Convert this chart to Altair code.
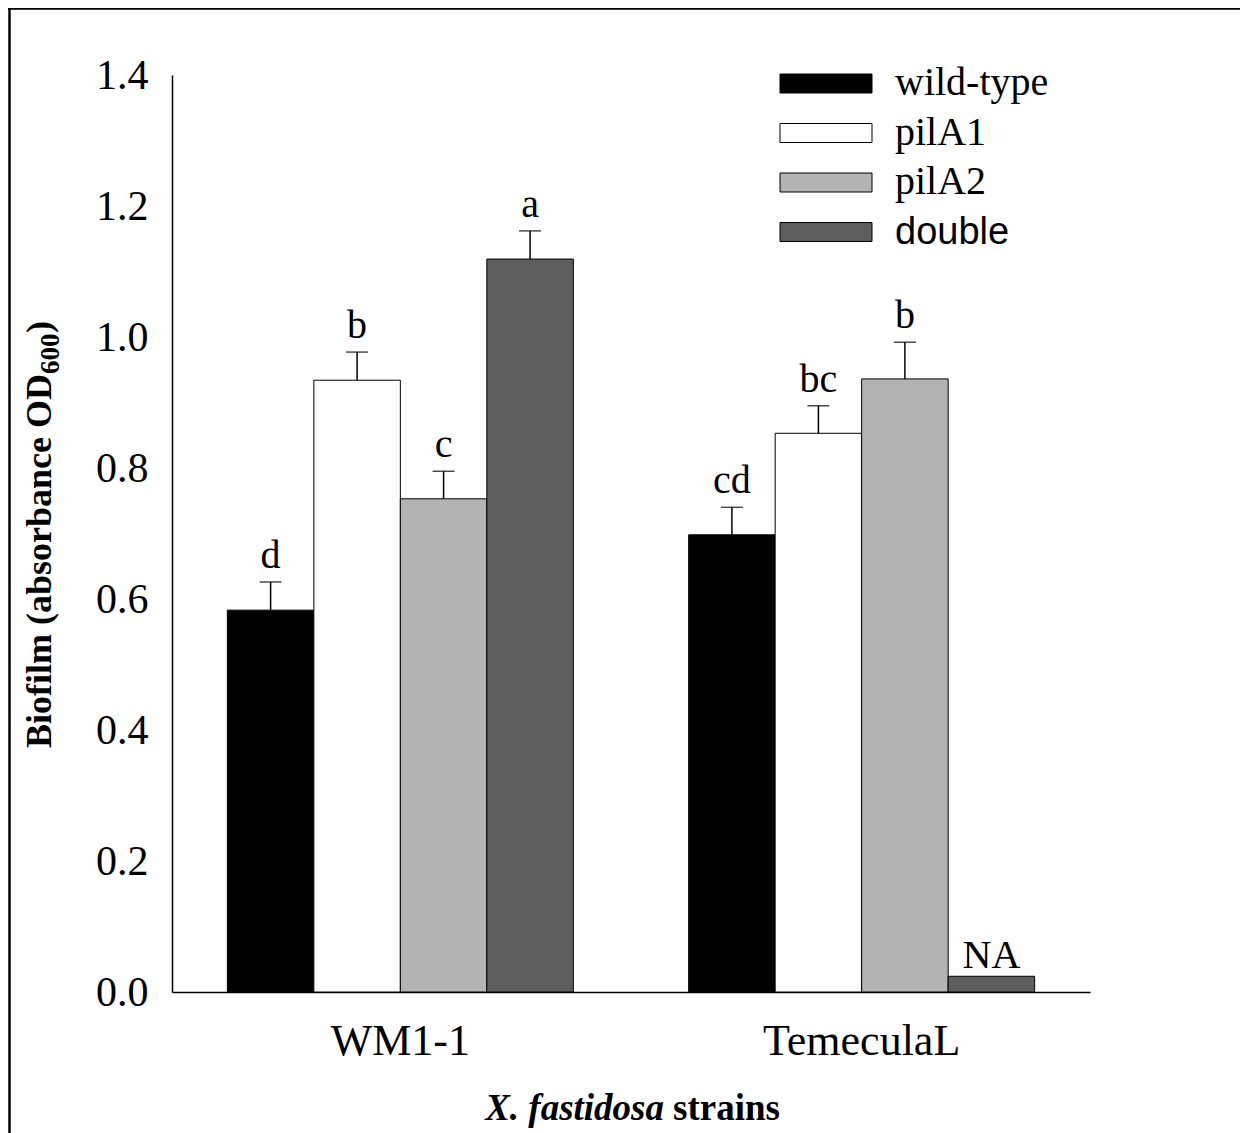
import altair as alt
import pandas as pd

strains = ["WM1-1", "TemeculaL"]
series = ["wild-type", "pilA1", "pilA2", "double"]
colors = ["#000000", "#ffffff", "#b3b3b3", "#5e5e5e"]

wm_values = [0.583, 0.934, 0.753, 1.119]
wm_errors = [0.043, 0.043, 0.042, 0.043]
wm_letters = ["d", "b", "c", "a"]

tem_values = [0.698, 0.853, 0.936, 0.024]
tem_errors = [0.042, 0.042, 0.056, None]
tem_letters = ["cd", "bc", "b", "NA"]

y_ticks = [0.0, 0.2, 0.4, 0.6, 0.8, 1.0, 1.2, 1.4]

SERIF = "Liberation Serif"
SANS = "Liberation Sans"

rows = []
for strain, vals, errs, lets in [
    ("WM1-1", wm_values, wm_errors, wm_letters),
    ("TemeculaL", tem_values, tem_errors, tem_letters),
]:
    for s, v, e, l in zip(series, vals, errs, lets):
        rows.append({
            "strain": strain, "series": s, "value": v,
            "err": e, "top": (v + e) if e is not None else None,
            "letter": l, "has_err": e is not None,
        })
df = pd.DataFrame(rows)

legend_df = pd.DataFrame({"series": series, "idx": list(range(len(series)))})

x_scale = alt.Scale(domain=strains, paddingInner=0.25, paddingOuter=0.12)
xo_scale = alt.Scale(domain=series, paddingInner=0, paddingOuter=0)
y_scale = alt.Scale(domain=[0, 1.4], nice=False, zero=True)
fill_scale = alt.Scale(domain=series, range=colors)

x_axis = alt.Axis(title=None, ticks=False, tickSize=0, labelAngle=0,
                  labelFont=SERIF, labelFontSize=44, labelColor="black",
                  labelPadding=27, labelLimit=0, domainColor="black",
                  domainWidth=1.5, grid=False)
y_axis = alt.Axis(title=None, values=y_ticks, format=".1f", grid=False,
                  ticks=False, tickSize=0, labelFont=SERIF,
                  labelFontSize=42, labelColor="black", labelPadding=24,
                  domainColor="black", domainWidth=1.5)

X = alt.X("strain:N", sort=strains, scale=x_scale, axis=x_axis)
XO = alt.XOffset("series:N", sort=series, scale=xo_scale)


def Y(field):
    return alt.Y(field, scale=y_scale, axis=y_axis)


base = alt.Chart(df)

bars = base.mark_bar(stroke="black", strokeWidth=1).encode(
    x=X, xOffset=XO, y=Y("value:Q"),
    fill=alt.Fill("series:N", scale=fill_scale, legend=None),
)

err_df = base.transform_filter("datum.has_err")

err_line = err_df.mark_rule(color="black", strokeWidth=1.5).encode(
    x=X, xOffset=XO, y=Y("value:Q"), y2="top:Q",
)
err_cap = err_df.mark_tick(color="black", size=22, thickness=1.5).encode(
    x=X, xOffset=XO, y=Y("top:Q"),
)
letters = err_df.mark_text(font=SERIF, fontSize=40, color="black",
                           baseline="alphabetic", dy=-14).encode(
    x=X, xOffset=XO, y=Y("top:Q"), text="letter:N",
)
na_text = base.transform_filter("!datum.has_err").mark_text(
    font=SERIF, fontSize=40, color="black", baseline="alphabetic", dy=-8
).encode(
    x=X, xOffset=XO, y=Y("value:Q"), text="letter:N",
)

leg = alt.Chart(legend_df).transform_calculate(
    y0="-1 + 49.5 * datum.idx",
    y1="18 + 49.5 * datum.idx",
    ty="20 + 49.5 * datum.idx",
)
leg_rect = leg.mark_rect(stroke="black", strokeWidth=1).encode(
    x=alt.value(608), x2=alt.value(700),
    y=alt.Y("y0:Q", scale=None, axis=None), y2="y1:Q",
    fill=alt.Fill("series:N", scale=fill_scale, legend=None),
)
leg_text_serif = leg.transform_filter("datum.series != 'double'").mark_text(
    font=SERIF, fontSize=40, color="black", align="left", baseline="alphabetic"
).encode(x=alt.value(723), y=alt.Y("ty:Q", scale=None, axis=None), text="series:N")
leg_text_sans = leg.transform_filter("datum.series == 'double'").mark_text(
    font=SANS, fontSize=38, color="black", align="left", baseline="alphabetic"
).encode(x=alt.value(723), y=alt.Y("ty:Q", scale=None, axis=None), text="series:N")

one = alt.Data(values=[{"a": 1}])
y_title_main = alt.Chart(one).mark_text(
    font=SERIF, fontSize=36, fontWeight="bold", color="black", angle=270,
    align="left", baseline="alphabetic"
).encode(x=alt.value(-121), y=alt.value(673),
         text=alt.value("Biofilm (absorbance OD"))
y_title_sub = alt.Chart(one).mark_text(
    font=SERIF, fontSize=27, fontWeight="bold", color="black", angle=270,
    align="left", baseline="alphabetic"
).encode(x=alt.value(-113), y=alt.value(299), text=alt.value("600"))
y_title_end = alt.Chart(one).mark_text(
    font=SERIF, fontSize=36, fontWeight="bold", color="black", angle=270,
    align="left", baseline="alphabetic"
).encode(x=alt.value(-121), y=alt.value(258), text=alt.value(")"))

x_title_1 = alt.Chart(one).mark_text(
    font=SERIF, fontSize=37, fontWeight="bold", fontStyle="italic", color="black",
    align="right", baseline="alphabetic"
).encode(x=alt.value(492), y=alt.value(1045), text=alt.value("X. fastidosa"))
x_title_2 = alt.Chart(one).mark_text(
    font=SERIF, fontSize=37, fontWeight="bold", color="black",
    align="left", baseline="alphabetic"
).encode(x=alt.value(501), y=alt.value(1045), text=alt.value("strains"))

border_top = alt.Chart(one).mark_rule(color="black", strokeWidth=2.5).encode(
    x=alt.value(-170), x2=alt.value(1200), y=alt.value(-66.5))
border_left = alt.Chart(one).mark_rule(color="black", strokeWidth=2.5).encode(
    x=alt.value(-162.5), y=alt.value(-80), y2=alt.value(1200))

chart = alt.layer(
    bars, err_line, err_cap, letters, na_text,
    leg_rect, leg_text_serif, leg_text_sans,
    y_title_main, y_title_sub, y_title_end,
    x_title_1, x_title_2, border_top, border_left,
).properties(
    width=918, height=917,
    padding={"left": 164, "top": 67, "right": 150, "bottom": 141},
    autosize="none",
    background="white",
).configure_view(stroke=None)

chart.save("out.html", embed_options={"renderer": "svg", "actions": False})
